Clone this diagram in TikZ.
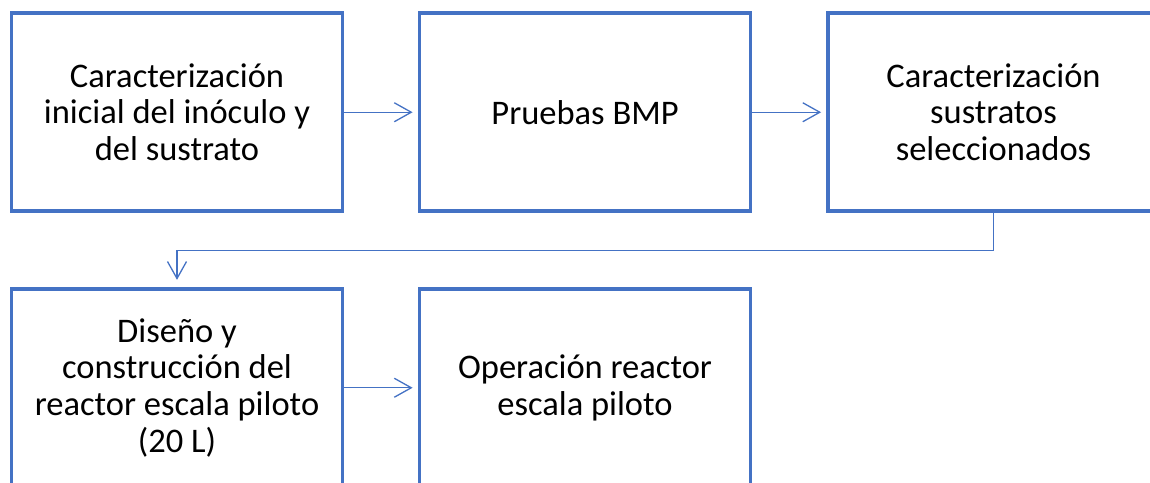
\documentclass[tikz,border=0pt]{standalone}
\usepackage{fontspec}
\setmainfont{Carlito}
\usetikzlibrary{arrows.meta}
\definecolor{azul}{RGB}{68,114,196}

\begin{document}
\begin{tikzpicture}[x=1pt,y=-1pt,>={Straight Barb[length=17pt,width=19pt]},
  caja/.style={draw=azul,line width=3.8pt,minimum width=331pt,minimum height=198pt,
    align=center,font=\fontsize{34.5}{36.8}\selectfont},
  flecha/.style={->,azul,line width=1.3pt,shorten >=5pt}]
  \useasboundingbox (0,0) rectangle (1150,482);
  \clip (0,0) rectangle (1150,482);
  % primera fila
  \node[caja] (inicial) at (177,112.25) {Caracterización\\inicial del inóculo y\\del sustrato};
  \node[caja] (bmp) at (585,112.25) {Pruebas BMP};
  \node[caja] (sustratos) at (993.5,112.25) {Caracterización\\sustratos\\seleccionados};
  % segunda fila
  \node[caja] (diseno) at (177,387.75) {Diseño y\\construcción del\\reactor escala piloto\\(20 L)};
  \node[caja] (operacion) at (585,387.75) {Operación reactor\\escala piloto};
  % flechas
  \draw[flecha] (inicial) -- (bmp);
  \draw[flecha] (bmp) -- (sustratos);
  \draw[flecha,shorten >=7pt] (sustratos.south) -- ++(0,37) -| (diseno.north);
  \draw[flecha] (diseno) -- (operacion);
\end{tikzpicture}
\end{document}
